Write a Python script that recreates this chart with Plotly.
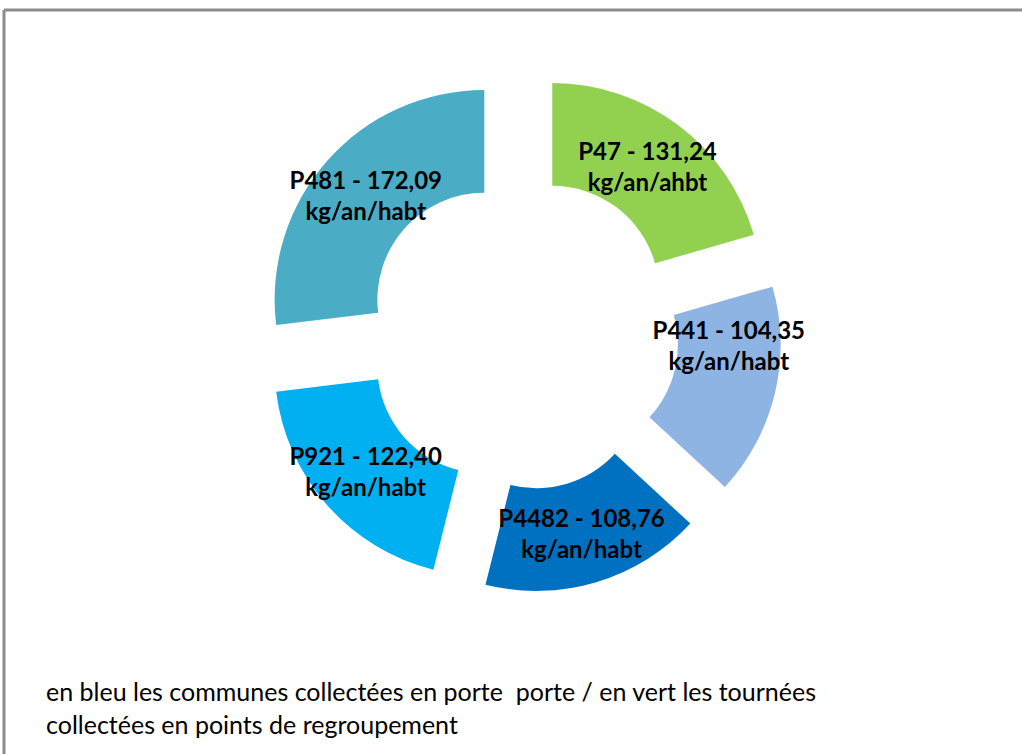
import plotly.graph_objects as go

# Data (clockwise from 12 o'clock)
codes = ["P47", "P441", "P4482", "P921", "P481"]
values = [131.24, 104.35, 108.76, 122.40, 172.09]
units = ["kg/an/ahbt", "kg/an/habt", "kg/an/habt", "kg/an/habt", "kg/an/habt"]
colors = ["#92D050", "#8DB4E2", "#0070C0", "#00B0F0", "#4BACC6"]
caption_lines = [
    "en bleu les communes collectées en porte  porte / en vert les tournées",
    "collectées en points de regroupement",
]

labels_txt = [f"{c} - {v:.2f}".replace(".", ",") + f"<br>{u}" for c, v, u in zip(codes, values, units)]

W, H = 1022, 754
cx, cy = 522, 333
half = 260

fig = go.Figure(
    go.Pie(
        labels=codes,
        values=values,
        text=labels_txt,
        textinfo="text",
        textposition="inside",
        insidetextorientation="horizontal",
        textfont=dict(family="Lato", size=24, color="#000000", weight="bold"),
        marker=dict(colors=colors, line=dict(width=0)),
        hole=0.51,
        pull=[0.24] * len(values),
        sort=False,
        direction="clockwise",
        rotation=0,
        showlegend=False,
        domain=dict(
            x=[(cx - half) / W, (cx + half) / W],
            y=[(H - cy - half) / H, (H - cy + half) / H],
        ),
        hoverinfo="label+value",
    )
)

fig.add_annotation(
    text="<br>".join(caption_lines),
    xref="paper", yref="paper",
    x=44 / W, y=(H - 674) / H,
    xanchor="left", yanchor="top",
    align="left",
    showarrow=False,
    font=dict(family="Lato", size=25, color="#000000"),
)

# frame border (top and left visible)
fig.add_shape(type="line", xref="paper", yref="paper", x0=4 / W, x1=1.0, y0=(H - 10) / H, y1=(H - 10) / H,
              line=dict(color="#8C8C8C", width=3))
fig.add_shape(type="line", xref="paper", yref="paper", x0=4 / W, x1=4 / W, y0=0, y1=(H - 10) / H,
              line=dict(color="#8C8C8C", width=3))

fig.update_layout(
    width=W, height=H,
    margin=dict(l=0, r=0, t=0, b=0),
    paper_bgcolor="white",
    plot_bgcolor="white",
    uniformtext=dict(minsize=24, mode="show"),
)

fig.write_html("out.html", config={"displayModeBar": False},
               post_script="document.body.style.margin='0px';")
